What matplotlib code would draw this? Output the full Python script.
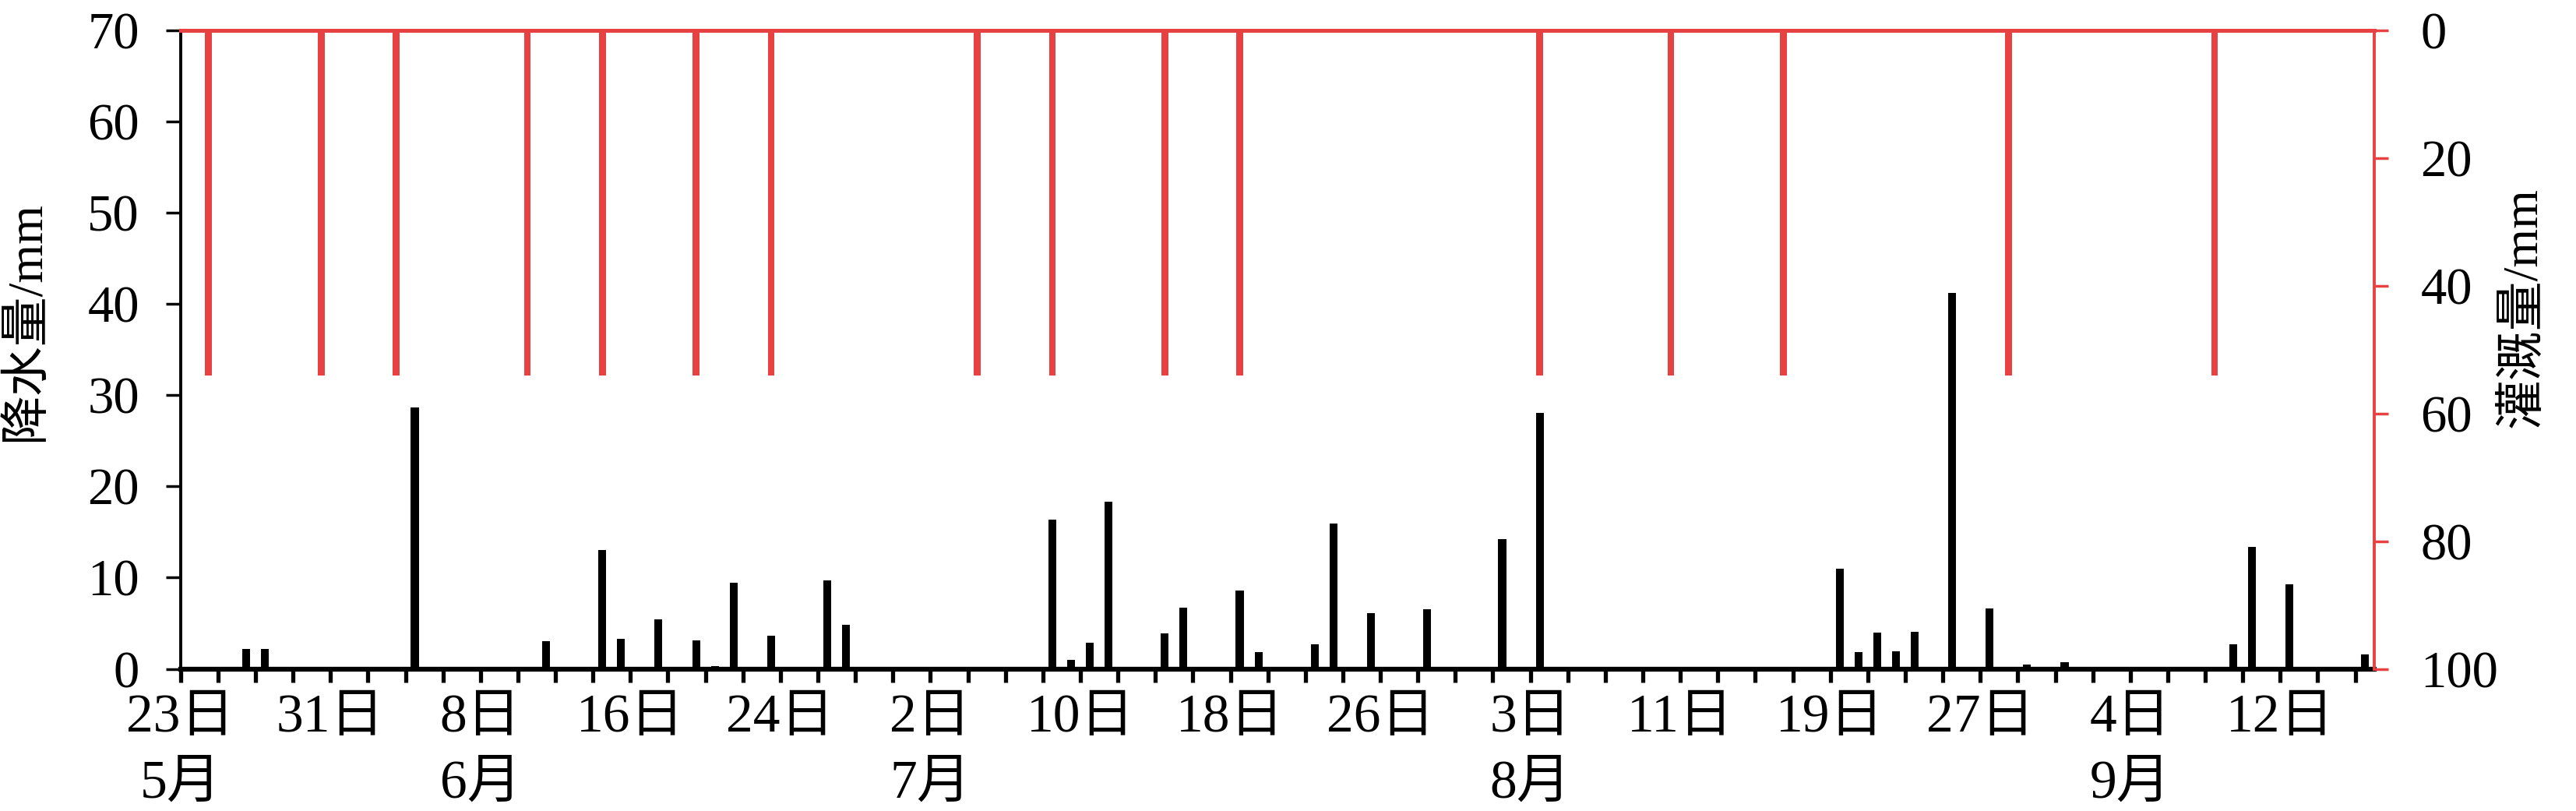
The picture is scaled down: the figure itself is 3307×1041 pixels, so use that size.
import numpy as np
import pandas as pd
import matplotlib
matplotlib.use('Agg')
import matplotlib.pyplot as plt

plt.rcParams['font.family'] = ['Liberation Serif', 'Noto Sans CJK SC']

# season window: 23 May .. 16 Sep (117 days)
start = pd.Timestamp('2021-05-23')
n_days = 117

# precipitation (mm), black bars
rain_dates = ['05-26', '05-27', '06-01', '06-04', '06-11', '06-14', '06-15', '06-17',
              '06-19', '06-20', '06-21', '06-23', '06-26', '06-27', '07-08', '07-09',
              '07-10', '07-11', '07-14', '07-15', '07-18', '07-19', '07-22', '07-23',
              '07-25', '07-28', '08-01', '08-03', '08-19', '08-20', '08-21', '08-22',
              '08-23', '08-25', '08-27', '08-29', '08-31', '09-09', '09-10', '09-12',
              '09-16']
rain_mm = [2.2, 2.2, 0.1, 28.7, 3.0, 13.0, 3.3, 5.4,
           3.1, 0.3, 9.4, 3.6, 9.7, 4.8, 16.4, 1.0,
           2.9, 18.3, 3.9, 6.7, 8.6, 1.8, 2.7, 15.9,
           6.1, 6.5, 14.2, 28.1, 11.0, 1.8, 4.0, 1.9,
           4.1, 41.2, 6.6, 0.5, 0.7, 2.7, 13.4, 9.3,
           1.6]

# irrigation (mm), red bars hanging from the top
irr_dates = ['05-24', '05-30', '06-03', '06-10', '06-14', '06-19', '06-23', '07-04',
             '07-08', '07-14', '07-18', '08-03', '08-10', '08-16', '08-28', '09-08']
irr_mm = [54, 54, 54, 54, 54, 54, 54, 54,
          54, 54, 54, 54, 54, 54, 54, 54]

month_names = ['5月', '6月', '7月', '8月', '9月']
month_at = ['05-23', '06-08', '07-02', '08-03', '09-04']

red = '#E84141'


def day_idx(md):
    return (pd.Timestamp(f'2021-{md}') - start).days


rain_x = np.array([day_idx(d) for d in rain_dates]) + 0.5
irr_x = np.array([day_idx(d) for d in irr_dates]) + 0.5

fig = plt.figure(figsize=(33.07, 10.41), dpi=100)
ax = fig.add_axes([0.07006, 0.17531, 0.85152, 0.78723])

ax.bar(rain_x, rain_mm, width=0.42, color='black', zorder=3)
ax.set_xlim(0, n_days)
ax.set_ylim(0, 70)
ax.set_yticks(np.arange(0, 71, 10))

major = np.arange(0, n_days, 8)
ax.set_xticks(major)
ax.set_xticklabels([f'{(start + pd.Timedelta(days=int(i))).day}日' for i in major])
ax.set_xticks(np.arange(0, n_days, 2), minor=True)

ax.tick_params(axis='y', direction='out', length=14, width=2.5, pad=24, labelsize=48)
ax.tick_params(axis='x', which='both', direction='out', length=12, width=3.8,
               pad=11, labelsize=50)
ax.spines['top'].set_visible(False)
ax.spines['right'].set_visible(False)
ax.spines['left'].set_linewidth(2.8)
ax.spines['bottom'].set_linewidth(4.5)

for name, md in zip(month_names, month_at):
    ax.text(day_idx(md), -0.181, name, transform=ax.get_xaxis_transform(),
            ha='center', va='center', fontsize=50)

ax2 = ax.twinx()
ax2.bar(irr_x, irr_mm, width=0.36, color=red, zorder=3)
ax2.set_ylim(100, 0)
ax2.set_yticks(np.arange(0, 101, 20))
ax2.tick_params(axis='y', direction='out', length=13, width=2.5, pad=30,
                labelsize=48, color=red)
ax2.spines['left'].set_visible(False)
ax2.spines['bottom'].set_visible(False)
ax2.spines['top'].set_color(red)
ax2.spines['top'].set_linewidth(3.6)
ax2.spines['right'].set_color(red)
ax2.spines['right'].set_linewidth(2.8)

fig.text(35 / 3307, 1 - 413 / 1041, '降水量/mm', rotation=90, ha='center',
         va='center', fontsize=46)
fig.text(3240 / 3307, 1 - 395 / 1041, '灌溉量/mm', rotation=90, ha='center',
         va='center', fontsize=46)

fig.savefig('out.png', dpi=100)
